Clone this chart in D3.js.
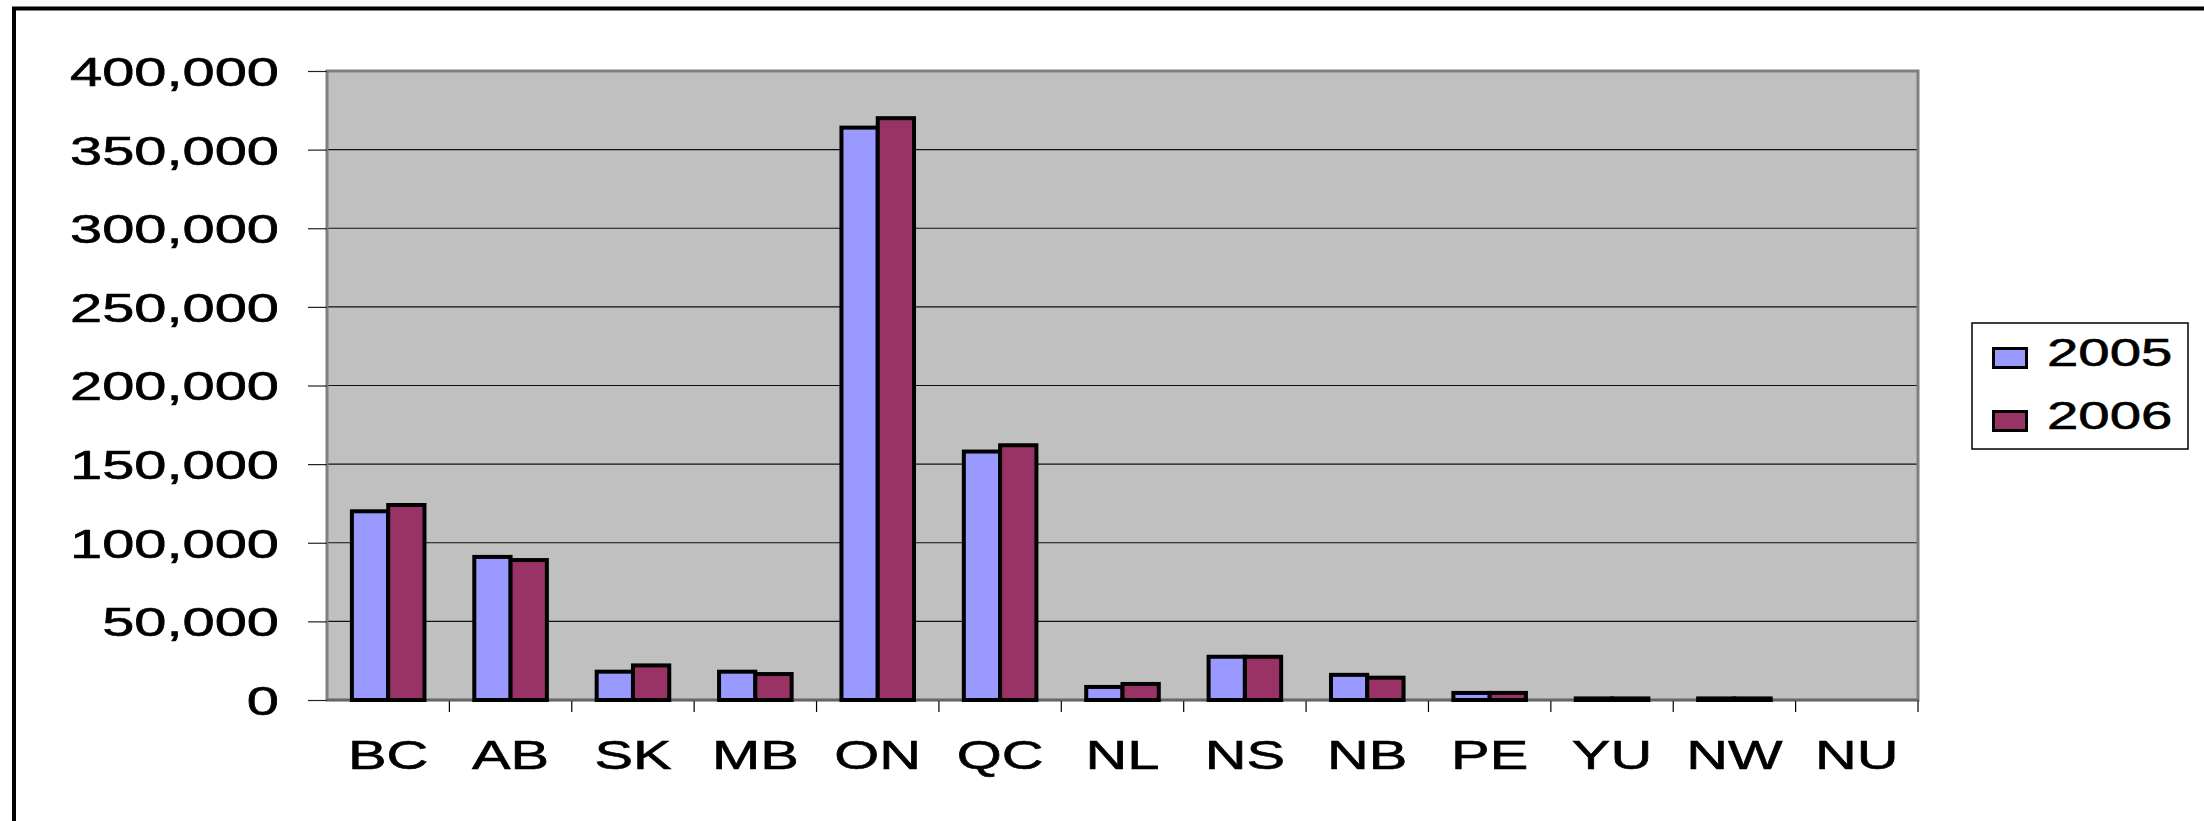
<!DOCTYPE html>
<html>
<head>
<meta charset="utf-8">
<script src="https://cdn.jsdelivr.net/npm/d3@7"></script>
<style>
  body { margin: 0; background: #fff; overflow: hidden; }
  text { font-family: "Liberation Sans", Arial, sans-serif; fill: #000; stroke: #000; stroke-width: 0.6px; }
</style>
</head>
<body>
<svg id="container" width="2204" height="821"></svg>
<script>
// data
var provinces = ['BC', 'AB', 'SK', 'MB', 'ON', 'QC', 'NL', 'NS', 'NB', 'PE', 'YU', 'NW', 'NU'];
var values2005 = [120000, 91000, 18000, 18000, 364000, 158000, 8300, 27500, 16000, 4500, 1000, 1000, 0];
var values2006 = [124000, 89000, 22000, 16500, 370000, 162000, 10200, 27500, 14200, 4500, 1000, 1000, 0];
var yTicks = [0, 50000, 100000, 150000, 200000, 250000, 300000, 350000, 400000];
var seriesNames = ['2005', '2006'];
var seriesColors = ['#9999FF', '#993366'];

// plot area, picture pixels
var margin = {top: 71, left: 327};
var innerWidth = 1918 - 327;
var innerHeight = 700 - 71;
var stretch = 1.445; // text in the picture is wider than normal Arial

var svg = d3.select('#container');

// widen a text selection horizontally, like the picture does
function widen(sel){
  sel.each(function(){
    var w = this.getComputedTextLength();
    d3.select(this).attr('textLength', w * stretch).attr('lengthAdjust', 'spacingAndGlyphs');
  });
}

// outer frame: only its left and top sides are inside the picture
svg.append('path')
    .attr('d', 'M14,821V8.5H2204')
    .attr('fill', 'none').attr('stroke', '#000').attr('stroke-width', 4);

var chart = svg.append('g')
    .attr('transform', `translate(${margin.left}, ${margin.top})`);

var x = d3.scaleBand().domain(provinces).range([0, innerWidth]);
var x1 = d3.scaleBand().domain(seriesNames).range([0, x.bandwidth() * 0.593]);
var y = d3.scaleLinear().domain([0, 400000]).range([innerHeight, 0]);

// plot background
chart.append('rect')
    .attr('width', innerWidth).attr('height', innerHeight)
    .attr('fill', '#C0C0C0');

// gridlines
chart.append('g')
  .selectAll('line')
    .data(yTicks.filter(d => d > 0 && d < 400000))
  .enter().append('line')
    .attr('x1', 0).attr('x2', innerWidth)
    .attr('y1', d => y(d)).attr('y2', d => y(d))
    .attr('stroke', '#111').attr('stroke-width', 1.2);

// plot border
chart.append('rect')
    .attr('width', innerWidth).attr('height', innerHeight)
    .attr('fill', 'none').attr('stroke', '#808080').attr('stroke-width', 3);

// y axis
var yAxis = chart.append('g')
    .call(d3.axisLeft(y).tickValues(yTicks).tickFormat(d3.format(',')).tickSize(19).tickSizeOuter(0));
yAxis.select('.domain').remove();
yAxis.selectAll('.tick line').attr('stroke', '#222').attr('stroke-width', 1.2);
yAxis.selectAll('text')
    .attr('x', -48).attr('dy', '0.36em')
    .style('font-size', '40px')
    .attr('fill', '#000')
    .call(widen);

// x axis: ticks at category boundaries
chart.append('g')
  .selectAll('line')
    .data(provinces.slice(1).map(p => x(p)).concat([innerWidth]))
  .enter().append('line')
    .attr('x1', d => d).attr('x2', d => d)
    .attr('y1', innerHeight).attr('y2', innerHeight + 12)
    .attr('stroke', '#000').attr('stroke-width', 1.2);

chart.append('line')
    .attr('x1', 0).attr('x2', innerWidth)
    .attr('y1', innerHeight).attr('y2', innerHeight)
    .attr('stroke', '#666').attr('stroke-width', 2.5);

chart.append('g')
  .selectAll('text')
    .data(provinces)
  .enter().append('text')
    .attr('text-anchor', 'middle')
    .attr('x', d => x(d) + x.bandwidth() / 2)
    .attr('y', 769 - margin.top)
    .style('font-size', '40px')
    .text(d => d)
    .call(widen);

// bars
var rows = provinces.map((p, i) => ({province: p, values: [values2005[i], values2006[i]]}));
var groupOffset = (x.bandwidth() - x1.range()[1]) / 2;

chart.append('g')
  .selectAll('g')
    .data(rows)
  .enter().append('g')
    .attr('transform', d => `translate(${x(d.province) + groupOffset}, 0)`)
  .selectAll('rect')
    .data(d => d.values.map((v, i) => ({series: seriesNames[i], value: v, color: seriesColors[i]})).filter(b => b.value > 0))
  .enter().append('rect')
    .attr('x', d => x1(d.series))
    .attr('y', d => y(d.value))
    .attr('width', x1.bandwidth())
    .attr('height', d => innerHeight - y(d.value))
    .attr('fill', d => d.color)
    .attr('stroke', '#000').attr('stroke-width', 4);

// legend
var legend = svg.append('g').attr('transform', 'translate(1972, 323)');
legend.append('rect')
    .attr('width', 216).attr('height', 126)
    .attr('fill', '#fff').attr('stroke', '#000').attr('stroke-width', 1.5);

var item = legend.selectAll('.item')
    .data(seriesNames)
  .enter().append('g')
    .attr('class', 'item')
    .attr('transform', (d, i) => `translate(0, ${i * 63})`);
item.append('rect')
    .attr('x', 21.5).attr('y', 25.5)
    .attr('width', 33).attr('height', 19)
    .attr('fill', (d, i) => seriesColors[i])
    .attr('stroke', '#000').attr('stroke-width', 3);
item.append('text')
    .attr('x', 75).attr('y', 42.5)
    .style('font-size', '39px')
    .text(d => d)
    .call(widen);
</script>
</body>
</html>
